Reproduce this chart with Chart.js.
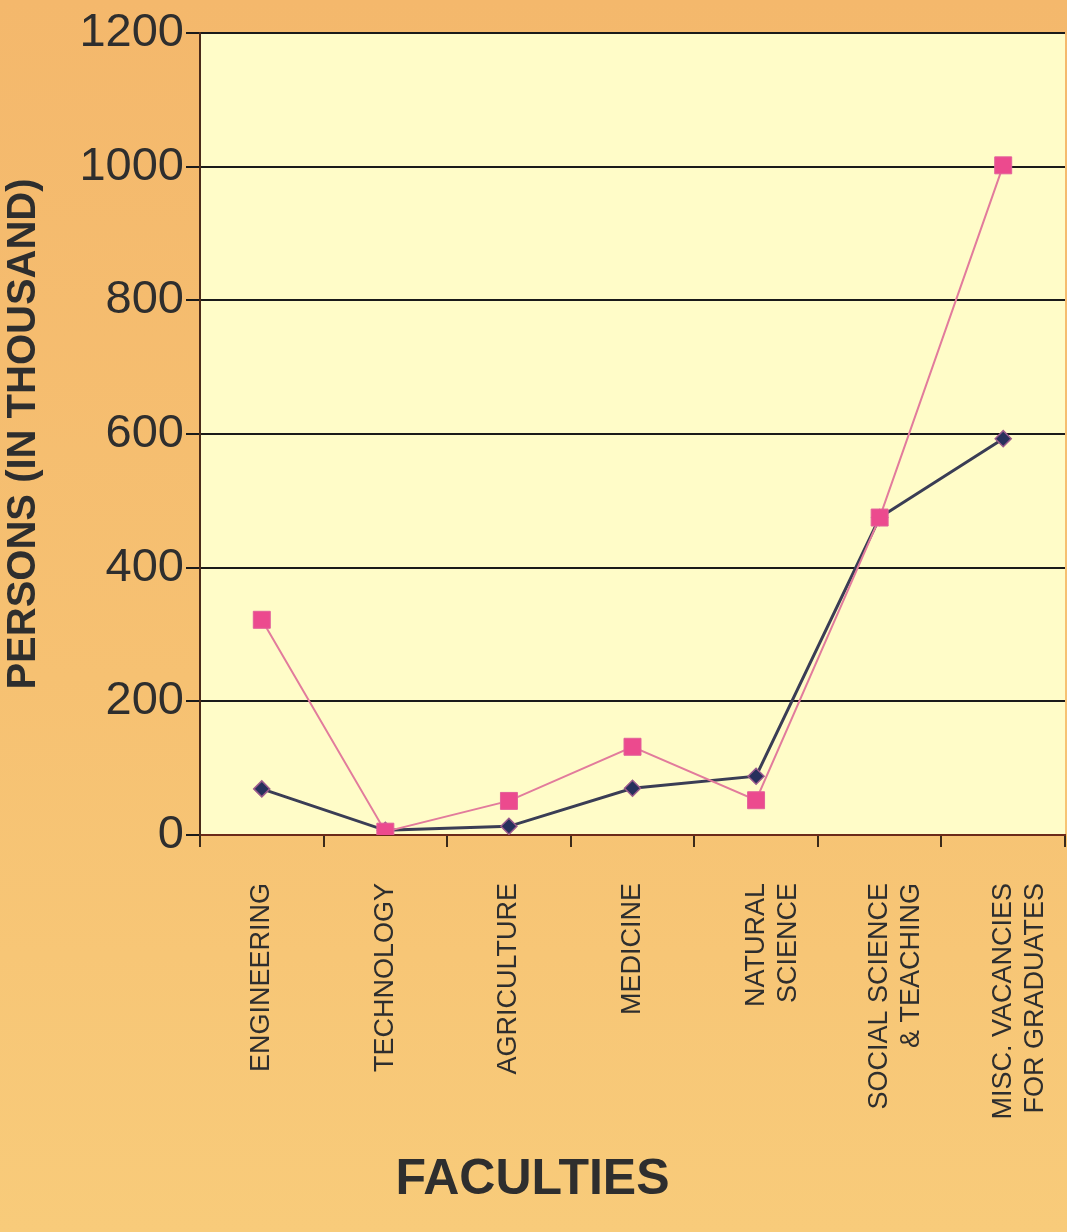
<!DOCTYPE html>
<html>
<head>
<meta charset="utf-8">
<script src="https://cdn.jsdelivr.net/npm/chart.js@4/dist/chart.umd.min.js"></script>
<style>
  body {
    margin: 0;
    overflow: hidden;
    background: linear-gradient(180deg, #f4b86c 0%, #f6c172 55%, #f8cb7a 100%);
  }
  #wrap { width: 1067px; height: 1232px; }
  canvas { display: block; }
</style>
</head>
<body>
<div id="wrap"><canvas id="chart" width="1067" height="1232"></canvas></div>
<script>
/* datos */
const faculties = [
  "ENGINEERING",
  "TECHNOLOGY",
  "AGRICULTURE",
  "MEDICINE",
  ["NATURAL", "SCIENCE"],
  ["SOCIAL SCIENCE", "& TEACHING"],
  ["MISC. VACANCIES", "FOR GRADUATES"]
];
const supplyValues = [69, 7, 13, 70, 88, 475, 593];     // linea azul, rombos
const demandValues = [322, 5, 51, 132, 52, 475, 1002];  // linea rosa, cuadrados
const yTicks = [0, 200, 400, 600, 800, 1000, 1200];

// fondo amarillo del area de grafico
const plotBg = {
  id: "plotBg",
  beforeDraw(chart) {
    const a = chart.chartArea;
    const ctx = chart.ctx;
    ctx.save();
    ctx.fillStyle = "#fffcc8";
    ctx.fillRect(a.left, a.top, a.right - a.left, a.bottom - a.top);
    ctx.restore();
  }
};

const ctx = document.getElementById("chart").getContext("2d");
new Chart(ctx, {
  type: "line",
  data: {
    labels: faculties,
    datasets: [
      {
        data: demandValues,
        borderColor: "#e27b9c",
        borderWidth: 2,
        pointStyle: "rect",
        pointRadius: 12,
        pointBackgroundColor: "#ec4a8e",
        pointBorderColor: "#e2609a",
        pointBorderWidth: 1,
        tension: 0
      },
      {
        data: supplyValues,
        borderColor: "#3a3d55",
        borderWidth: 3,
        pointStyle: "rectRot",
        pointRadius: 8,
        pointBackgroundColor: "#27305c",
        pointBorderColor: "#9a5a8c",
        pointBorderWidth: 1.5,
        tension: 0
      }
    ]
  },
  options: {
    responsive: false,
    animation: false,
    layout: { autoPadding: false, padding: { top: 33, right: 2, left: 0, bottom: 0 } },
    plugins: {
      legend: { display: false },
      tooltip: { enabled: false },
      title: {
        display: true,
        position: "bottom",
        text: "FACULTIES",
        color: "#2e2e2e",
        font: { family: "Liberation Sans", size: 50, weight: "bold", lineHeight: 1.2 },
        padding: { top: 10, bottom: 22 }
      }
    },
    scales: {
      x: {
        offset: true,
        afterFit(scale) {
          scale.height = 305;
          scale.paddingLeft = 0;
          scale.paddingRight = 0;
        },
        border: { color: "#6b2a1a", width: 2 },
        grid: {
          offset: true,
          drawOnChartArea: false,
          drawTicks: true,
          tickLength: 12,
          color: "#3a2a1a",
          lineWidth: 2
        },
        ticks: {
          minRotation: 90,
          maxRotation: 90,
          padding: 36,
          color: "#2e2e2e",
          font: { family: "Liberation Sans", size: 27, lineHeight: 1.2 }
        }
      },
      y: {
        min: 0,
        max: 1200,
        afterFit(scale) { scale.width = 200; },
        afterBuildTicks(scale) { scale.ticks = yTicks.map(v => ({ value: v })); },
        border: { color: "#4a2a1a", width: 2 },
        grid: {
          color: "#1a1a1a",
          lineWidth: 2,
          tickLength: 14
        },
        ticks: {
          padding: 2,
          color: "#2e2e2e",
          font: { family: "Liberation Sans", size: 47 },
          callback: v => String(v)
        },
        title: {
          display: true,
          text: "PERSONS (IN THOUSAND)",
          color: "#2e2e2e",
          font: { family: "Liberation Sans", size: 40, weight: "bold" },
          padding: { top: 0, bottom: 4 }
        }
      }
    }
  },
  plugins: [plotBg]
});
</script>
</body>
</html>
